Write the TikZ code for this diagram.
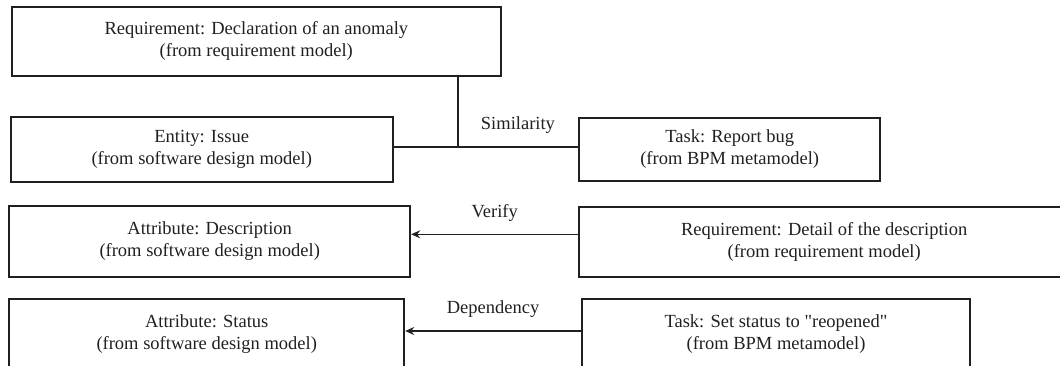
\documentclass[tikz,border=0pt]{standalone}
\usepackage{fontspec}
\setmainfont{Liberation Serif}[Ligatures=TeXOff]
\usetikzlibrary{arrows.meta}
\definecolor{ink}{RGB}{35,31,32}
\begin{document}
\begin{tikzpicture}[x=1pt,y=-1pt,font=\fontsize{18.5}{22}\selectfont,
  modelbox/.style={draw=ink,line width=2pt,align=center,inner sep=0pt,text=ink},
  rel/.style={draw=ink,line width=1.6pt,-{Stealth[length=9pt,width=8pt,inset=3pt]}},
  rellabel/.style={midway,above=9pt,text=ink}]
  \useasboundingbox (0,0) rectangle (1060,365);
  \node[modelbox,minimum width=489pt,minimum height=69pt] (reqAnomaly) at (256.3,41.2) {Requirement: Declaration of an anomaly\\(from requirement model)};
  \node[modelbox,minimum width=382pt,minimum height=65pt] (entIssue) at (201.7,149.3) {Entity: Issue\\(from software design model)};
  \node[modelbox,minimum width=301pt,minimum height=63pt] (taskBug) at (729.7,149.3) {Task: Report bug\\(from BPM metamodel)};
  \node[modelbox,minimum width=401pt,minimum height=71.6pt] (attrDesc) at (209.7,241.5) {Attribute: Description\\(from software design model)};
  \node[modelbox,minimum width=490pt,minimum height=70pt] (reqDetail) at (824.2,241.7) {Requirement: Detail of the description\\(from requirement model)};
  \node[modelbox,minimum width=395pt,minimum height=70pt] (attrStatus) at (206.7,334.2) {Attribute: Status\\(from software design model)};
  \node[modelbox,minimum width=388pt,minimum height=70pt] (taskStatus) at (776,334.2) {Task: Set status to "reopened"\\(from BPM metamodel)};
  % similarity
  \coordinate (join) at (457.7,146.7);
  \draw[ink,line width=2pt] (reqAnomaly.south -| join) -- (join);
  \draw[ink,line width=2.4pt] (entIssue.east |- join) -- (join) -- (taskBug.west |- join) node[rellabel]{Similarity};
  % verify, dependency
  \coordinate (verifyY) at (0,234.3);
  \coordinate (dependY) at (0,331);
  \draw[rel] (reqDetail.west |- verifyY) -- (attrDesc.east |- verifyY) node[rellabel]{Verify};
  \draw[rel] (taskStatus.west |- dependY) -- (attrStatus.east |- dependY) node[rellabel]{Dependency};
\end{tikzpicture}
\end{document}
